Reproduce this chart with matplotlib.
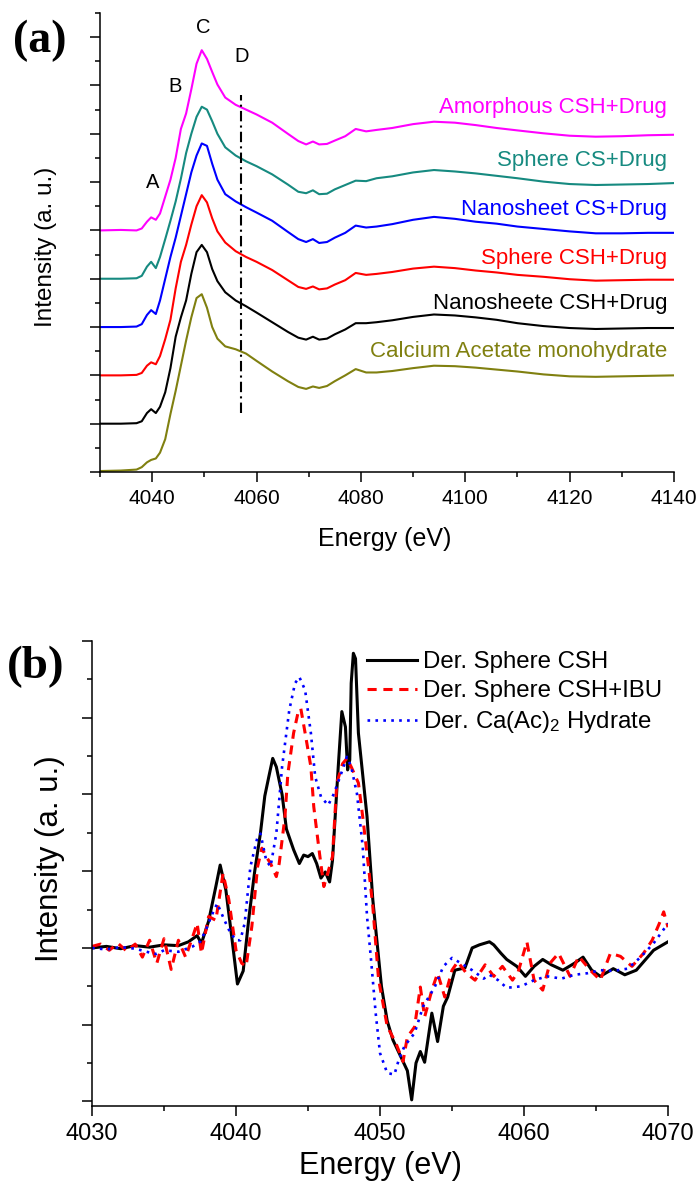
import matplotlib
matplotlib.use("Agg")
import matplotlib.pyplot as plt
from matplotlib.ticker import MultipleLocator, NullFormatter

plt.rcParams['font.family'] = ['Liberation Sans', 'DejaVu Sans']
plt.rcParams['mathtext.default'] = 'regular'

# ---------------- Panel (a) data: Ca K-edge XANES ----------------
energy_a = [4030, 4034, 4037, 4038, 4039, 4039.8, 4040.7, 4041.5, 4042.5, 4043.5,
            4044.5, 4045.5, 4046.5, 4047.5, 4048.5, 4049.5, 4050.5, 4051.5, 4052.5, 4054,
            4056, 4058, 4060, 4063, 4066, 4068, 4069.5, 4070.8, 4072, 4073.5,
            4075, 4077, 4079, 4081, 4083, 4086, 4090, 4094, 4098, 4102,
            4106, 4110, 4115, 4120, 4125, 4130, 4135, 4140]

amorphous_csh_drug = [0, 0.01, 0.0, 0.04, 0.18, 0.27, 0.22, 0.35, 0.7, 1.05,
                      1.5, 2.1, 2.42, 2.92, 3.45, 3.73, 3.55, 3.28, 3.02, 2.75,
                      2.6, 2.5, 2.4, 2.23, 2.0, 1.85, 1.78, 1.84, 1.78, 1.79,
                      1.86, 1.95, 2.1, 2.05, 2.08, 2.12, 2.2, 2.25, 2.23, 2.18,
                      2.12, 2.07, 2.01, 1.96, 1.94, 1.95, 1.97, 1.98]
sphere_cs_drug = [0, 0.0, 0.01, 0.06, 0.25, 0.35, 0.22, 0.45, 0.82, 1.2,
                  1.6, 2.07, 2.6, 3.0, 3.35, 3.56, 3.5, 3.26, 3.0, 2.72,
                  2.55, 2.43, 2.33, 2.16, 1.95, 1.8, 1.77, 1.83, 1.75, 1.76,
                  1.85, 1.94, 2.03, 2.02, 2.08, 2.12, 2.2, 2.25, 2.22, 2.18,
                  2.13, 2.08, 2.01, 1.96, 1.94, 1.95, 1.96, 1.98]
nanosheet_cs_drug = [0, 0.0, 0.01, 0.06, 0.25, 0.35, 0.27, 0.55, 1.0, 1.45,
                     1.85, 2.3, 2.75, 3.2, 3.55, 3.8, 3.75, 3.38, 3.05, 2.75,
                     2.6, 2.48, 2.37, 2.2, 1.97, 1.82, 1.76, 1.82, 1.74, 1.76,
                     1.85, 1.95, 2.1, 2.06, 2.08, 2.13, 2.22, 2.28, 2.24, 2.18,
                     2.14, 2.08, 2.03, 1.98, 1.94, 1.94, 1.95, 1.95]
sphere_csh_drug = [0, 0.0, 0.01, 0.05, 0.2, 0.27, 0.23, 0.4, 0.75, 1.15,
                   1.8, 2.35, 2.7, 3.12, 3.5, 3.73, 3.58, 3.25, 2.98, 2.75,
                   2.57, 2.45, 2.35, 2.18, 1.97, 1.83, 1.79, 1.84, 1.78, 1.8,
                   1.88, 1.97, 2.12, 2.08, 2.1, 2.14, 2.21, 2.25, 2.22, 2.17,
                   2.13, 2.08, 2.04, 1.99, 1.96, 1.97, 1.98, 1.98]
nanosheete_csh_drug = [0, 0.0, 0.01, 0.05, 0.22, 0.3, 0.22, 0.35, 0.65, 1.15,
                       1.8, 2.2, 2.55, 3.1, 3.55, 3.7, 3.55, 3.2, 2.95, 2.72,
                       2.55, 2.43, 2.3, 2.1, 1.9, 1.78, 1.74, 1.8, 1.74, 1.76,
                       1.85, 1.95, 2.08, 2.08, 2.1, 2.14, 2.21, 2.26, 2.24, 2.2,
                       2.15, 2.08, 2.02, 1.98, 1.96, 1.97, 1.98, 1.98]
calcium_acetate = [0.02, 0.03, 0.05, 0.1, 0.2, 0.25, 0.28, 0.4, 0.68, 1.2,
                   1.68, 2.2, 2.72, 3.2, 3.6, 3.68, 3.4, 3.0, 2.76, 2.6,
                   2.54, 2.45, 2.3, 2.08, 1.88, 1.76, 1.72, 1.77, 1.74, 1.78,
                   1.88, 2.0, 2.13, 2.06, 2.06, 2.09, 2.15, 2.2, 2.19, 2.16,
                   2.12, 2.08, 2.02, 1.98, 1.97, 1.98, 1.99, 2.0]

labels_a = ["Amorphous CSH+Drug", "Sphere CS+Drug", "Nanosheet CS+Drug",
            "Sphere CSH+Drug", "Nanosheete CSH+Drug", "Calcium Acetate monohydrate"]
series_a = [amorphous_csh_drug, sphere_cs_drug, nanosheet_cs_drug,
            sphere_csh_drug, nanosheete_csh_drug, calcium_acetate]
offsets_a = [5, 4, 3, 2, 1, 0]
label_y_a = [7.43, 6.33, 5.32, 4.31, 3.38, 2.37]
colors_a = ['#FF00FF', '#168A80', '#0000FF', '#FF0000', '#000000', '#808010']

feature_letters = ['A', 'B', 'C', 'D']
feature_x = [4040.0, 4044.4, 4049.7, 4057.2]
feature_y = [6.0, 7.97, 9.19, 8.59]
line_d_x = 4057
line_d_y = [1.22, 7.8]

# ---------------- Panel (b) data: derivative spectra ----------------
energy_b_csh = [4030, 4031, 4032, 4033, 4034, 4035, 4036, 4036.7, 4037.3, 4037.6,
                4038.1, 4038.6, 4038.9, 4039.3, 4039.7, 4040.1, 4040.5, 4040.9, 4041.3, 4041.7,
                4042.0, 4042.3, 4042.55, 4042.8, 4043.2, 4043.5, 4044.0, 4044.4, 4044.7, 4045.0,
                4045.3, 4045.6, 4045.9, 4046.2, 4046.5, 4046.7, 4047.1, 4047.35, 4047.6, 4047.75,
                4047.9, 4048.0, 4048.15, 4048.3, 4048.5, 4049.1, 4049.5, 4050.1, 4050.5, 4050.9,
                4051.6, 4051.9, 4052.2, 4052.5, 4052.8, 4053.1, 4053.6, 4054.0, 4054.4, 4054.7,
                4055.2, 4055.9, 4056.4, 4056.9, 4057.6, 4057.9, 4058.4, 4058.8, 4059.5, 4060.1,
                4060.7, 4061.3, 4061.9, 4062.7, 4063.5, 4064.1, 4064.7, 4065.3, 4066.2, 4067.0,
                4067.8, 4068.4, 4069.0, 4070.0]
der_sphere_csh = [0.0, 0.02, -0.01, 0.03, 0.01, 0.04, 0.03, 0.08, 0.16, 0.06,
                  0.35, 0.8, 1.08, 0.75, 0.15, -0.47, -0.3, 0.4, 1.0, 1.5,
                  1.98, 2.25, 2.47, 2.36, 2.0, 1.55, 1.28, 1.1, 1.21, 1.19,
                  1.23, 1.1, 0.91, 0.99, 0.86, 1.14, 2.36, 3.08, 2.88, 2.32,
                  2.45, 3.45, 3.84, 3.77, 2.8, 1.71, 0.63, -0.5, -0.95, -1.2,
                  -1.48, -1.6, -1.98, -1.5, -1.35, -1.49, -0.85, -1.22, -0.76, -0.64,
                  -0.29, -0.26, 0.0, 0.04, 0.08, 0.04, -0.07, -0.15, -0.24, -0.37,
                  -0.24, -0.15, -0.22, -0.29, -0.2, -0.12, -0.29, -0.37, -0.27, -0.35,
                  -0.29, -0.16, -0.03, 0.08]

energy_b_ibu = [4030, 4030.6, 4031.2, 4031.8, 4032.4, 4033.0, 4033.5, 4034.0, 4034.5, 4035.0,
                4035.5, 4036.0, 4036.5, 4037.0, 4037.3, 4037.6, 4038.1, 4038.6, 4039.1, 4039.5,
                4040.0, 4040.4, 4040.7, 4041.1, 4041.5, 4041.8, 4042.1, 4042.4, 4042.8, 4043.0,
                4043.4, 4043.6, 4044.0, 4044.3, 4044.5, 4044.8, 4045.2, 4045.4, 4045.8, 4046.1,
                4046.5, 4046.7, 4047.0, 4047.4, 4047.7, 4048.0, 4048.5, 4048.8, 4049.2, 4049.5,
                4049.9, 4050.5, 4051.1, 4051.6, 4051.9, 4052.4, 4052.8, 4053.1, 4053.6, 4054.0,
                4054.5, 4055.0, 4055.4, 4056.0, 4056.6, 4057.3, 4057.9, 4058.5, 4059.2, 4059.6,
                4060.2, 4060.7, 4061.3, 4061.8, 4062.4, 4063.2, 4063.8, 4064.6, 4065.3, 4066.0,
                4066.7, 4067.5, 4068.3, 4068.9, 4069.4, 4069.7, 4070.0]
der_sphere_csh_ibu = [0.02, 0.05, -0.03, 0.06, -0.04, 0.05, -0.12, 0.1, -0.2, 0.12,
                      -0.28, 0.1, -0.12, 0.15, 0.32, -0.07, 0.41, 0.36, 0.97, 0.63,
                      -0.03, -0.2, -0.24, 0.28, 1.06, 1.3, 1.19, 1.1, 0.93, 1.1,
                      1.71, 2.27, 2.8, 3.06, 3.12, 2.8, 2.36, 1.84, 1.23, 0.8,
                      1.06, 1.19, 2.15, 2.4, 2.47, 2.36, 2.15, 1.71, 1.06, 0.54,
                      -0.41, -1.02, -1.24, -1.48, -1.16, -1.03, -0.51, -0.9, -0.55, -0.33,
                      -0.64, -0.29, -0.18, -0.33, -0.42, -0.22, -0.37, -0.24, -0.42, -0.31,
                      0.08, -0.42, -0.55, -0.2, -0.07, -0.37, -0.11, -0.29, -0.42, -0.07,
                      -0.11, -0.24, -0.07, 0.1, 0.32, 0.47, 0.27]

energy_b_caac = [4030, 4031, 4032, 4033, 4034, 4034.5, 4035, 4036, 4037, 4037.5,
                 4037.9, 4038.3, 4038.7, 4039.2, 4039.6, 4040.0, 4040.3, 4040.6, 4041.0, 4041.5,
                 4041.7, 4042.1, 4042.4, 4042.8, 4043.2, 4043.7, 4044.1, 4044.4, 4044.8, 4045.2,
                 4045.5, 4045.9, 4046.4, 4046.8, 4047.3, 4047.7, 4048.0, 4048.4, 4048.8, 4049.1,
                 4049.4, 4049.7, 4050.0, 4050.5, 4051.0, 4051.3, 4051.7, 4052.4, 4053.0, 4053.8,
                 4054.4, 4055.0, 4055.8, 4056.4, 4057.2, 4057.6, 4058.2, 4058.8, 4059.8, 4060.7,
                 4061.6, 4062.6, 4063.5, 4064.4, 4065.3, 4066.2, 4067.2, 4068.1, 4069.0, 4070.0]
der_caac_hydrate = [0.0, -0.02, 0.01, -0.01, -0.06, -0.08, -0.03, -0.05, 0.02, 0.08,
                    0.23, 0.42, 0.58, 0.36, 0.2, 0.1, 0.1, 0.32, 1.06, 1.45,
                    1.49, 1.14, 1.06, 1.49, 2.36, 3.1, 3.45, 3.53, 3.36, 2.8,
                    2.23, 1.97, 1.86, 2.01, 2.27, 2.49, 2.36, 2.01, 1.32, 0.41,
                    -0.2, -0.85, -1.37, -1.63, -1.65, -1.46, -1.28, -1.11, -0.76, -0.51,
                    -0.24, -0.13, -0.22, -0.29, -0.4, -0.35, -0.42, -0.52, -0.5, -0.42,
                    -0.37, -0.4, -0.35, -0.33, -0.29, -0.3, -0.27, -0.12, 0.06, 0.32]

legend_b = ["Der. Sphere CSH", "Der. Sphere CSH+IBU", "Der. Ca(Ac)$_2$ Hydrate"]

# ---------------- Figure ----------------
W, H = 697, 1183
fig = plt.figure(figsize=(W / 100, H / 100), dpi=100)


def style_axes(ax):
    for s in ('top', 'right'):
        ax.spines[s].set_visible(False)
    for s in ('left', 'bottom'):
        ax.spines[s].set_linewidth(1.1)
    ax.tick_params(which='major', direction='out', length=7, width=1.1)
    ax.tick_params(which='minor', direction='out', length=3.8, width=1.1)
    ax.yaxis.set_major_formatter(NullFormatter())


# Panel (a)
axa = fig.add_axes([100 / W, 1 - 472 / H, 574 / W, 459 / H])
style_axes(axa)
for vals, off, col, lab, ly in zip(series_a, offsets_a, colors_a, labels_a, label_y_a):
    axa.plot(energy_a, [v + off for v in vals], color=col, lw=1.5)
    axa.text(4138.7, ly, lab, color=col, fontsize=16, ha='right', va='baseline')
axa.plot([line_d_x, line_d_x], line_d_y, color='black', lw=1.5, dashes=(5, 2, 1, 2))
for t, x, y in zip(feature_letters, feature_x, feature_y):
    axa.text(x, y, t, fontsize=14.5, ha='center', va='center')
axa.set_xlim(4030, 4140)
axa.set_ylim(0, 9.5)
axa.xaxis.set_major_locator(MultipleLocator(20))
axa.xaxis.set_minor_locator(MultipleLocator(10))
axa.yaxis.set_major_locator(MultipleLocator(1))
axa.yaxis.set_minor_locator(MultipleLocator(0.5))
axa.tick_params(axis='x', labelsize=15, pad=5.5)
axa.tick_params(axis='y', which='major', length=7.5)
axa.set_xlabel("Energy (eV)", fontsize=18, va='center')
axa.xaxis.set_label_coords(385 / W, 1 - 539 / H, transform=fig.transFigure)
axa.set_ylabel("Intensity (a. u.)", fontsize=17.5, va='center')
axa.yaxis.set_label_coords(46 / W, 1 - 247 / H, transform=fig.transFigure)

# Panel (b)
axb = fig.add_axes([92 / W, 1 - 1106 / H, 576 / W, 465 / H])
style_axes(axb)
axb.plot(energy_b_csh, der_sphere_csh, color='black', lw=2.2, label=legend_b[0])
axb.plot(energy_b_ibu, der_sphere_csh_ibu, color='#FF0000', lw=2.2, dashes=(3, 2.2), label=legend_b[1])
axb.plot(energy_b_caac, der_caac_hydrate, color='#0000FF', lw=1.9, linestyle=(0, (1, 2)), label=legend_b[2])
axb.set_xlim(4030, 4070)
axb.set_ylim(-2.06, 4.0)
axb.xaxis.set_major_locator(MultipleLocator(10))
axb.xaxis.set_minor_locator(MultipleLocator(5))
axb.yaxis.set_major_locator(MultipleLocator(1))
axb.yaxis.set_minor_locator(MultipleLocator(0.5))
axb.tick_params(axis='x', labelsize=17, pad=5.5)
axb.set_xlabel("Energy (eV)", fontsize=22, va='center')
axb.xaxis.set_label_coords(380 / W, 1 - 1166 / H, transform=fig.transFigure)
axb.set_ylabel("Intensity (a. u.)", fontsize=22.5, va='center')
axb.yaxis.set_label_coords(50 / W, 1 - 859 / H, transform=fig.transFigure)
axb.legend(loc='upper left', bbox_to_anchor=(367 / W, 1 - 651 / H),
           bbox_transform=fig.transFigure, frameon=False, fontsize=17.3,
           handlelength=2.1, handletextpad=0.25, labelspacing=0.3,
           borderpad=0, borderaxespad=0)

# Panel letters
fig.text(40 / W, 1 - 41 / H, "(a)", fontsize=33, fontweight='bold',
         family=['Liberation Serif', 'DejaVu Serif'], ha='center', va='center')
fig.text(36 / W, 1 - 667 / H, "(b)", fontsize=34, fontweight='bold',
         family=['Liberation Serif', 'DejaVu Serif'], ha='center', va='center')

fig.savefig("out.png", dpi=100)
